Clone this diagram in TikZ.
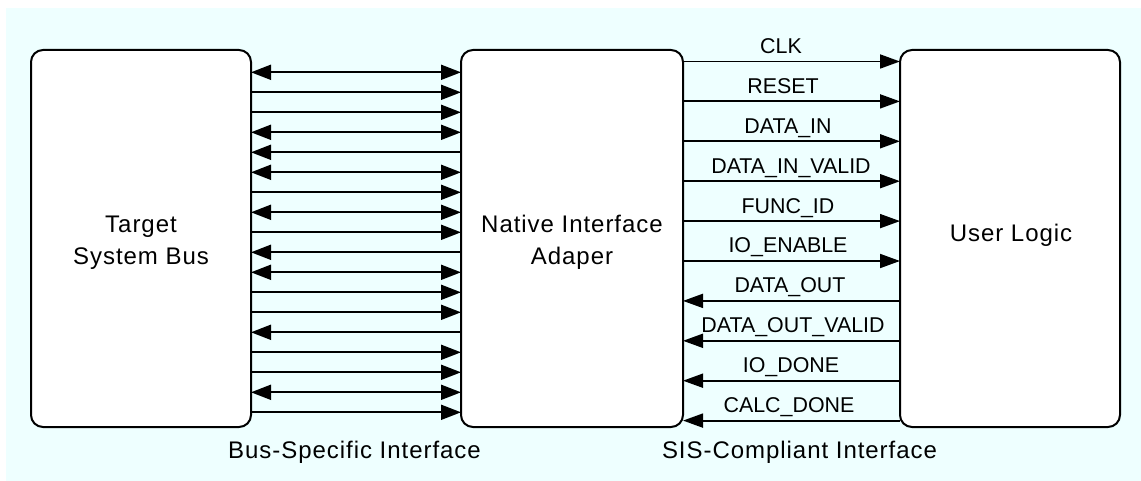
\documentclass[tikz,border=0pt]{standalone}
\usepackage{fontspec}
\setmainfont{Liberation Sans}
\newfontfamily\blockfont[LetterSpace=4]{Liberation Sans}
\usetikzlibrary{arrows.meta}
\definecolor{panel}{RGB}{238,255,255}
\tikzset{
  block/.style={draw, line width=2pt, fill=white, rounded corners=12pt,
    minimum width=220pt, minimum height=377pt, outer sep=0pt, inner sep=0pt},
  blocktext/.style={font=\blockfont\fontsize{24}{29}\selectfont, anchor=base, inner sep=0pt},
  sig/.style={font=\fontsize{21.4}{26}\selectfont, anchor=base, inner sep=0pt},
  wire/.style={line width=1.8pt},
  busend/.style={>={Triangle[length=20pt,width=15pt]}},
  sisend/.style={>={Triangle[length=20pt,width=14pt]}},
}
\begin{document}
\begin{tikzpicture}[x=1pt,y=-1pt]
\useasboundingbox (0,0) rectangle (1141,481);
\fill[panel] (6,8) rectangle (1141,481);

% the three blocks
\node[block] (bus) at (141,238.5) {};
\node[block, minimum width=222pt] (nia) at (572,238.5) {};
\node[block] (user) at (1010,238.5) {};

\node[blocktext] (busA) at (141,233) {Target};
\node[blocktext] (busB) at (141,265) {System Bus};
\node[blocktext] (niaA) at (572,233) {Native Interface};
\node[blocktext] (niaB) at (572,265) {Adaper};
\node[blocktext] (userA) at (1011,241.5) {User Logic};

% bus-specific side: eighteen lines
\foreach \k/\dir in {0/<->,1/->,2/->,3/<->,4/<-,5/<->,6/->,7/<->,8/->,
                     9/<-,10/<->,11/->,12/->,13/<-,14/->,15/->,16/<->,17/->}{
  \pgfmathsetmacro{\yy}{72.3+20*\k}
  \draw[wire,busend,\dir] (bus.east |- 0,\yy) -- (nia.west |- 0,\yy);
}

% SIS-compliant side: named signals
\foreach \k/\txt/\dir/\cx in {0/CLK/->/781, 1/RESET/->/783, 2/DATA\_IN/->/788,
    3/DATA\_IN\_VALID/->/791, 4/FUNC\_ID/->/788, 5/IO\_ENABLE/->/788,
    6/DATA\_OUT/<-/790, 7/DATA\_OUT\_VALID/<-/793, 8/IO\_DONE/<-/791,
    9/CALC\_DONE/<-/789}{
  \pgfmathsetmacro{\yy}{61.5+39.9*\k}
  \draw[wire,sisend,\dir] (nia.east |- 0,\yy) -- (user.west |- 0,\yy);
  \node[sig] (sig\k) at (\cx,\yy-8) {\txt};
}

% interface captions
\node[blocktext] (capbus) at (354.5,458.3) {Bus-Specific Interface};
\node[blocktext] (capsis) at (799.5,458.3) {SIS-Compliant Interface};
\end{tikzpicture}
\end{document}
